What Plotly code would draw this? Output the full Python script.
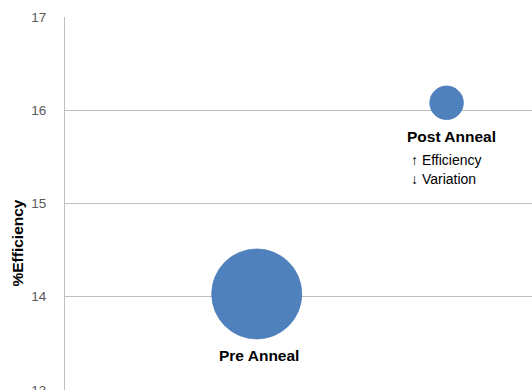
import plotly.graph_objects as go

# Anneal study: mean cell efficiency and spread for each process step
categories = ["Pre Anneal", "Post Anneal"]
x_pos = [1, 2]
efficiency = [14.03, 16.08]
variation = [0.86, 0.12]
notes = ["↑ Efficiency", "↓ Variation"]
y_ticks = [13, 14, 15, 16, 17]

BLUE = "#4F81BD"
GRID = "#BFBFBF"
FONT = "Arial, Liberation Sans, sans-serif"

max_diam = 90
fig = go.Figure(
    go.Scatter(
        x=x_pos,
        y=efficiency,
        mode="markers",
        marker=dict(
            size=variation,
            sizemode="area",
            sizeref=2 * max(variation) / max_diam ** 2,
            color=BLUE,
            opacity=1,
            line=dict(color="#4A7EBB", width=0.8),
        ),
        hoverinfo="skip",
    )
)

# category labels under each bubble
fig.add_annotation(
    x=x_pos[0], y=efficiency[0], xref="x", yref="y",
    text="<b>" + categories[0] + "</b>", showarrow=False,
    xshift=2, yshift=-62, font=dict(family=FONT, size=15.5, color="#000000"),
)
fig.add_annotation(
    x=x_pos[1], y=efficiency[1], xref="x", yref="y",
    text="<b>" + categories[1] + "</b>", showarrow=False,
    xshift=5, yshift=-34, font=dict(family=FONT, size=15.5, color="#000000"),
)
for i, note in enumerate(notes):
    fig.add_annotation(
        x=x_pos[1], y=efficiency[1], xref="x", yref="y",
        text=note, showarrow=False, xanchor="left",
        xshift=-38, yshift=-57 - 19 * i,
        font=dict(family=FONT, size=14, color="#000000"),
    )

# y-axis title
fig.add_annotation(
    x=-0.1017, y=0.394, xref="paper", yref="paper",
    text="<b>%Efficiency</b>", textangle=-90, showarrow=False,
    xanchor="center", yanchor="middle",
    font=dict(family=FONT, size=15.5, color="#000000"),
)

fig.update_layout(
    width=532,
    height=390,
    margin=dict(l=65, r=0, t=17, b=0, pad=0, autoexpand=False),
    paper_bgcolor="white",
    plot_bgcolor="white",
    showlegend=False,
    font=dict(family=FONT),
    xaxis=dict(
        range=[-0.01, 2.45],
        visible=False,
        showgrid=False,
        zeroline=False,
        automargin=False,
    ),
    yaxis=dict(
        range=[13, 17],
        tickvals=y_ticks,
        ticktext=[str(t) for t in y_ticks],
        showgrid=True,
        gridcolor=GRID,
        gridwidth=1,
        zeroline=False,
        showline=True,
        linecolor=GRID,
        linewidth=1,
        ticks="",
        ticklabelstandoff=15,
        ticklabeloverflow="allow",
        automargin=False,
        tickfont=dict(family=FONT, size=13.5, color="#595959"),
    ),
)

fig.write_html("out.html", config={"displayModeBar": False})
